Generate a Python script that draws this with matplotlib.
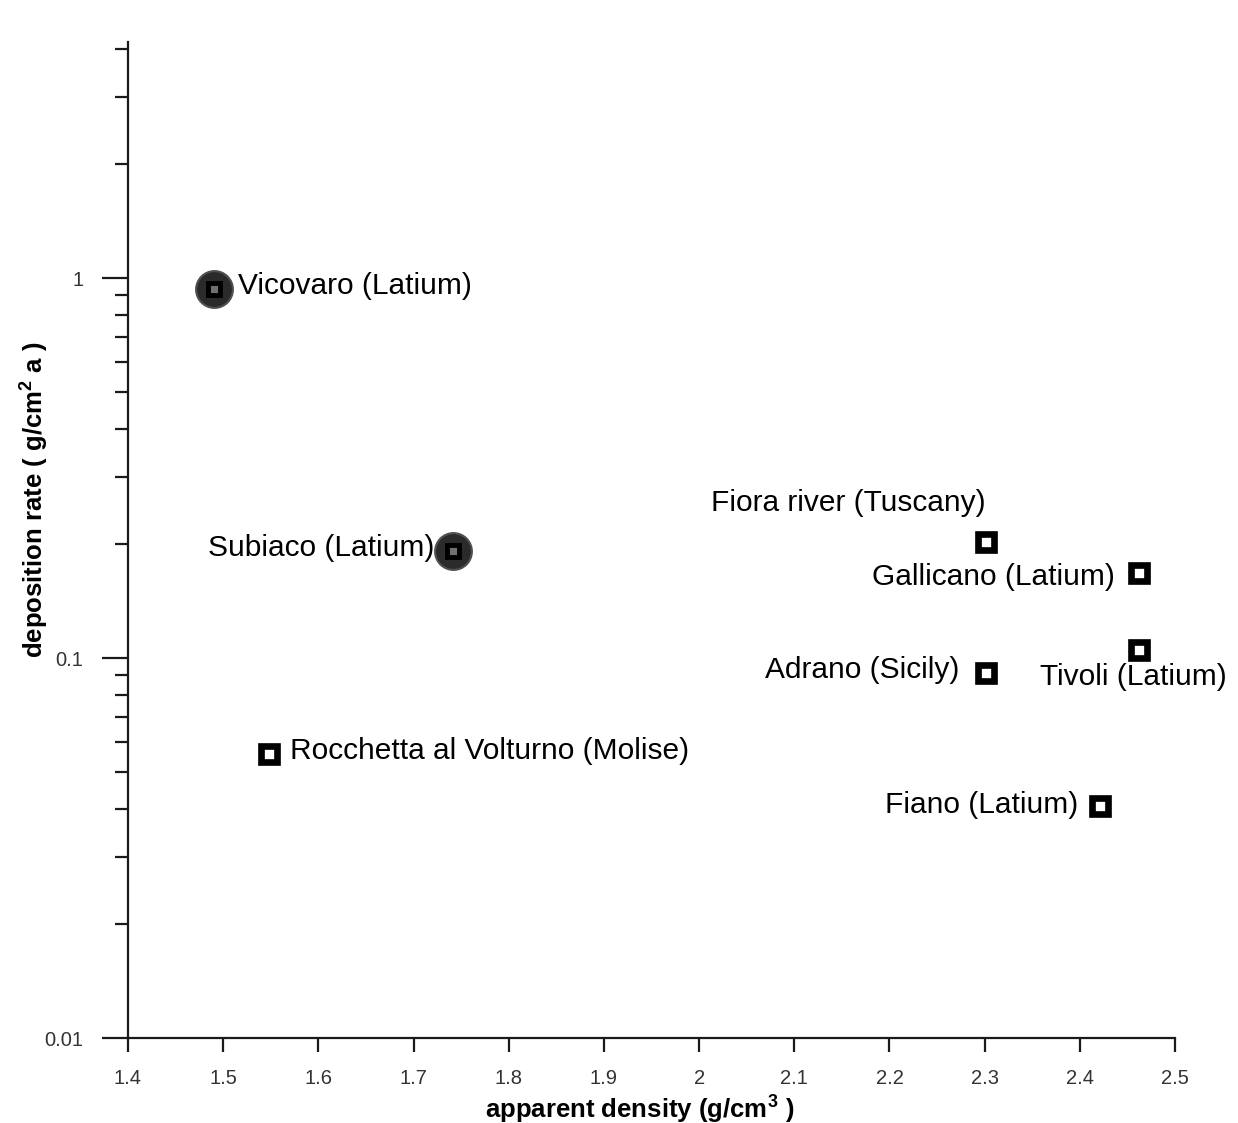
import matplotlib
matplotlib.use("Agg")
import matplotlib.pyplot as plt
from matplotlib.ticker import LogLocator, NullFormatter, FixedLocator, FixedFormatter

plt.rcParams['font.family'] = ['Liberation Sans', 'DejaVu Sans']
plt.rcParams['mathtext.fontset'] = 'custom'
plt.rcParams['mathtext.rm'] = 'Liberation Sans'
plt.rcParams['mathtext.bf'] = 'Liberation Sans:bold'

# ---- data ----
sites = ["Vicovaro (Latium)", "Subiaco (Latium)", "Rocchetta al Volturno (Molise)",
         "Fiora river (Tuscany)", "Gallicano (Latium)", "Tivoli (Latium)",
         "Adrano (Sicily)", "Fiano (Latium)"]
density = [1.49, 1.741, 1.548, 2.301, 2.462, 2.462, 2.301, 2.421]
deposition = [0.935, 0.191, 0.056, 0.202, 0.167, 0.105, 0.0914, 0.0408]
highlighted = [True, True, False, False, False, False, False, False]

x_ticks = [1.4, 1.5, 1.6, 1.7, 1.8, 1.9, 2.0, 2.1, 2.2, 2.3, 2.4, 2.5]
x_tick_labels = ["1.4", "1.5", "1.6", "1.7", "1.8", "1.9", "2", "2.1", "2.2", "2.3", "2.4", "2.5"]
y_ticks = [0.01, 0.1, 1]
y_tick_labels = ["0.01", "0.1", "1"]

# label offsets in pixels (dx, dy) and horizontal alignment
label_offsets = [(24, 3, 'left'), (-18, 3, 'right'), (21, 3, 'left'),
                 (0, 39, 'right'), (-24, -4, 'right'), (-99, -27, 'left'),
                 (-26, 3, 'right'), (-22, 1, 'right')]

W, H = 1238, 1123
fig = plt.figure(figsize=(W / 100, H / 100), dpi=100)
ax = fig.add_axes([128 / W, 1 - 1038 / H, (1175 - 128) / W, (1038 - 42) / H])

ax.set_xscale('linear')
ax.set_yscale('log')
ax.set_xlim(1.4, 2.5)
ax.set_ylim(0.01, 4.18)

for x, y, hl in zip(density, deposition, highlighted):
    if hl:
        ax.plot([x], [y], 'o', ms=26.5, mfc='#2b2b2b', mec='#505050', mew=1.5, zorder=3)
        ax.plot([x], [y], 's', ms=8.0, mfc='#707070', mec='black', mew=3.5, zorder=4)
    else:
        ax.plot([x], [y], 's', ms=11, mfc='white', mec='black', mew=4.8, zorder=4)

for name, x, y, (dx, dy, ha) in zip(sites, density, deposition, label_offsets):
    ax.annotate(name, (x, y), xytext=(dx * 0.72, dy * 0.72), textcoords='offset points',
                ha=ha, va='center', fontsize=21.5, color='black', annotation_clip=False)

# spines
for s in ['top', 'right']:
    ax.spines[s].set_visible(False)
for s in ['left', 'bottom']:
    ax.spines[s].set_linewidth(1.6)
    ax.spines[s].set_color('#1a1a1a')

ax.xaxis.set_major_locator(FixedLocator(x_ticks))
ax.xaxis.set_major_formatter(FixedFormatter(x_tick_labels))
ax.yaxis.set_major_locator(FixedLocator(y_ticks))
ax.yaxis.set_major_formatter(FixedFormatter(y_tick_labels))
ax.yaxis.set_minor_locator(LogLocator(base=10, subs=[2, 3, 4, 5, 6, 7, 8, 9]))
ax.yaxis.set_minor_formatter(NullFormatter())

ax.tick_params(axis='x', which='major', direction='out', length=10, width=1.6,
               labelsize=14.5, pad=12, colors='#1a1a1a', labelcolor='#333333')
ax.tick_params(axis='y', which='major', direction='out', length=19, width=1.6,
               labelsize=14.5, pad=13, colors='#1a1a1a', labelcolor='#333333')
ax.tick_params(axis='y', which='minor', direction='out', length=9.5, width=1.6,
               colors='#1a1a1a')

ax.set_xlabel("apparent density (g/cm$^{\\mathbf{3}}$ )", fontsize=18.5, fontweight='bold',
              va='center')
ax.set_ylabel("deposition rate ( g/cm$^{\\mathbf{2}}$ a )", fontsize=18.5, fontweight='bold',
              va='center')
ax.xaxis.set_label_coords(0.489, -0.071)
ax.yaxis.set_label_coords(-0.090, 0.54)

fig.savefig("out.png", dpi=100)
